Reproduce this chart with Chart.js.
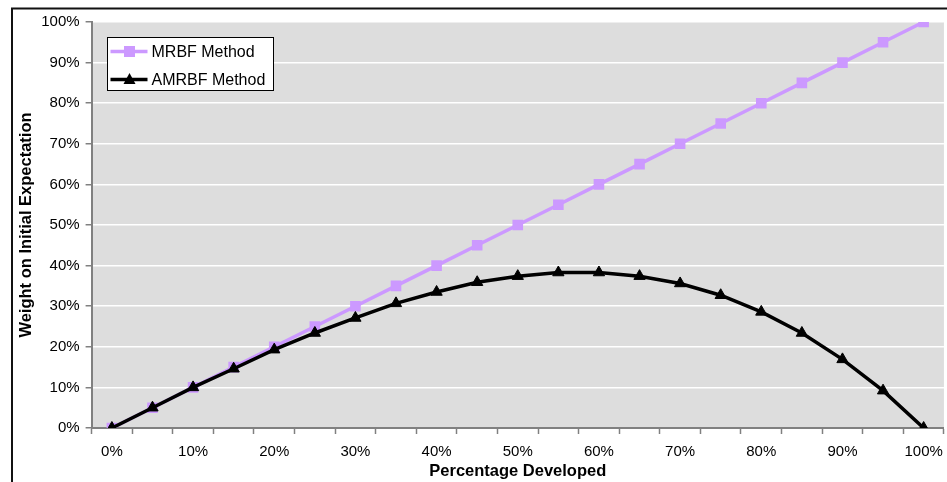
<!DOCTYPE html>
<html>
<head>
<meta charset="utf-8">
<script src="https://cdn.jsdelivr.net/npm/chart.js@4/dist/chart.umd.min.js"></script>
<style>
  html, body { margin: 0; padding: 0; background: #fff; overflow: hidden; }
  #wrap { position: relative; width: 947px; height: 482px; overflow: hidden; }
  #box { position: absolute; left: 0; top: 0; width: 952px; height: 482px; }
</style>
</head>
<body>
<div id="wrap"><div id="box"><canvas id="weightChart"></canvas></div></div>
<script>
const categories = ["0%", "5%", "10%", "15%", "20%", "25%", "30%", "35%", "40%", "45%", "50%",
  "55%", "60%", "65%", "70%", "75%", "80%", "85%", "90%", "95%", "100%"];
const mrbfValues = [0, 5, 10, 15, 20, 25, 30, 35, 40, 45, 50, 55, 60, 65, 70, 75, 80, 85, 90, 95, 100];
const amrbfValues = [0, 5, 10, 14.6, 19.3, 23.4, 27.1, 30.7, 33.5, 35.9, 37.4,
  38.3, 38.3, 37.4, 35.6, 32.7, 28.6, 23.4, 16.9, 9.2, 0];
const seriesNames = ["MRBF Method", "AMRBF Method"];

const FONT = "'Liberation Sans', Arial, sans-serif";

// 灰色绘图区 + 外框
const backdrop = {
  id: "backdrop",
  beforeDraw(chart) {
    const { ctx, chartArea: a } = chart;
    ctx.save();
    ctx.fillStyle = "#dddddd";
    ctx.fillRect(a.left, a.top, a.right - a.left, a.bottom - a.top);
    ctx.strokeStyle = "#111";
    ctx.lineWidth = 2;
    ctx.strokeRect(12, 8.5, chart.width + 20, chart.height + 20);
    ctx.restore();
  },
};

// Excel 风格图例：线段 + 标记
const lineLegend = {
  id: "lineLegend",
  afterDatasetsDraw(chart) {
    const ctx = chart.ctx;
    const x = 107.5, y = 37.5, w = 166, h = 53;
    ctx.save();
    ctx.fillStyle = "#fff";
    ctx.fillRect(x, y, w, h);
    ctx.strokeStyle = "#000";
    ctx.lineWidth = 1;
    ctx.strokeRect(x, y, w, h);
    chart.data.datasets.forEach((ds, i) => {
      const cy = y + 14 + i * 28;
      ctx.strokeStyle = ds.borderColor;
      ctx.lineWidth = 3.5;
      ctx.beginPath();
      ctx.moveTo(x + 3, cy);
      ctx.lineTo(x + 40, cy);
      ctx.stroke();
      ctx.fillStyle = ds.pointBackgroundColor;
      const cx = x + 22;
      if (ds.pointStyle === "rect") {
        ctx.fillRect(cx - 5.5, cy - 5.5, 11, 11);
      } else {
        ctx.beginPath();
        ctx.moveTo(cx, cy - 6.5);
        ctx.lineTo(cx + 6, cy + 4.5);
        ctx.lineTo(cx - 6, cy + 4.5);
        ctx.closePath();
        ctx.fill();
      }
      ctx.fillStyle = "#000";
      ctx.font = "16px " + FONT;
      ctx.textBaseline = "middle";
      ctx.fillText(ds.label, x + 44, cy + 1);
    });
    ctx.restore();
  },
};

new Chart(document.getElementById("weightChart"), {
  type: "line",
  data: {
    labels: categories,
    datasets: [
      {
        label: seriesNames[0],
        data: mrbfValues,
        borderColor: "#cc99ff",
        backgroundColor: "#cc99ff",
        pointBackgroundColor: "#cc99ff",
        pointBorderColor: "#cc99ff",
        pointStyle: "rect",
        pointRadius: 7.5,
        pointBorderWidth: 0,
        borderWidth: 3.5,
        order: 2,
      },
      {
        label: seriesNames[1],
        data: amrbfValues,
        borderColor: "#000",
        backgroundColor: "#000",
        pointBackgroundColor: "#000",
        pointBorderColor: "#000",
        pointStyle: "triangle",
        pointRadius: 6.5,
        pointBorderWidth: 1,
        borderWidth: 3.5,
        order: 1,
      },
    ],
  },
  options: {
    responsive: true,
    maintainAspectRatio: false,
    animation: false,
    layout: { padding: { left: 0, top: 22, right: 2.6, bottom: 0 } },
    scales: {
      x: {
        offset: true,
        afterFit(scale) { scale.height = 54; },
        grid: { offset: true, drawOnChartArea: false, tickLength: 6, tickColor: "#808080", tickWidth: 1.5 },
        border: { color: "#808080", width: 2 },
        ticks: {
          autoSkip: false,
          maxRotation: 0,
          padding: 9,
          color: "#000",
          font: { family: FONT, size: 15 },
          callback: function (value, index) {
            return index % 2 === 0 ? categories[index] : "";
          },
        },
        title: {
          display: true,
          text: "Percentage Developed",
          color: "#000",
          font: { family: FONT, size: 16.5, weight: "bold" },
          padding: 1,
        },
      },
      y: {
        min: 0,
        max: 100,
        afterFit(scale) { scale.width = 91.6; },
        grid: { color: "#ffffff", lineWidth: 1.5, tickLength: 6, tickColor: "#808080", tickWidth: 1.5 },
        border: { color: "#808080", width: 2 },
        ticks: {
          stepSize: 10,
          padding: 6,
          color: "#000",
          font: { family: FONT, size: 15 },
          callback: function (value) {
            return value + "%";
          },
        },
        title: {
          display: true,
          text: "Weight on Initial Expectation",
          color: "#000",
          font: { family: FONT, size: 16.5, weight: "bold" },
          padding: 17,
        },
      },
    },
    plugins: {
      legend: { display: false },
      tooltip: { enabled: false },
    },
  },
  plugins: [backdrop, lineLegend],
});
</script>
</body>
</html>
